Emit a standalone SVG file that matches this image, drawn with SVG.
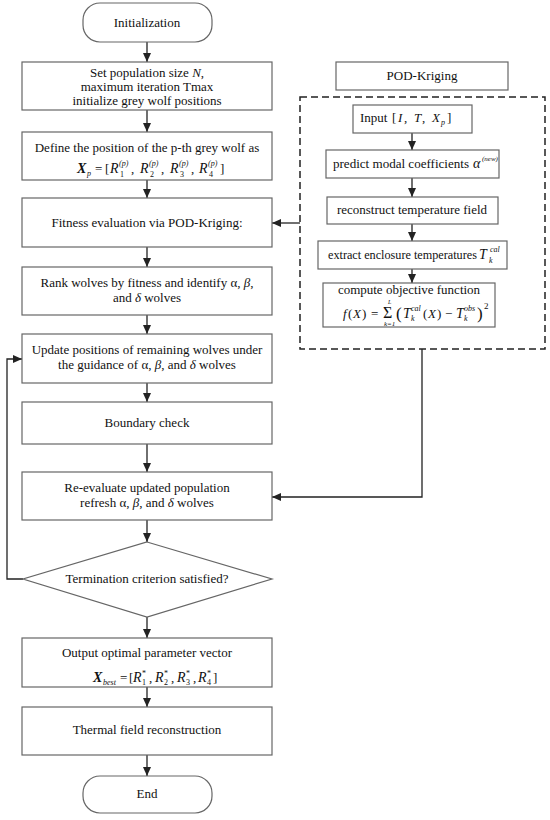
<svg xmlns="http://www.w3.org/2000/svg" width="550" height="820" viewBox="0 0 550 820">
<defs>
<marker id="ah" markerWidth="10" markerHeight="10" refX="9" refY="5" orient="auto" markerUnits="userSpaceOnUse">
<path d="M0,1 L9,5 L0,9 Z" fill="#222"/>
</marker>
<style>
.box{fill:#fff;stroke:#666;stroke-width:1.2}
.dash{fill:none;stroke:#222;stroke-width:1.5;stroke-dasharray:7,4}
.t{font-family:"Liberation Serif","Times New Roman",serif;font-size:13px;fill:#111}
.c{text-anchor:middle}
.i{font-style:italic}
.b{font-weight:bold}
.s{font-size:8px}
.con{fill:none;stroke:#222;stroke-width:1.3}
</style>
</defs>
<rect width="550" height="820" fill="#fff"/>

<g id="connectors">
<line class="con" x1="147" y1="42" x2="147" y2="62" marker-end="url(#ah)"/>
<line class="con" x1="147" y1="110" x2="147" y2="132" marker-end="url(#ah)"/>
<line class="con" x1="147" y1="180" x2="147" y2="198" marker-end="url(#ah)"/>
<line class="con" x1="147" y1="247" x2="147" y2="267" marker-end="url(#ah)"/>
<line class="con" x1="147" y1="315" x2="147" y2="334" marker-end="url(#ah)"/>
<line class="con" x1="147" y1="383" x2="147" y2="402" marker-end="url(#ah)"/>
<line class="con" x1="147" y1="444" x2="147" y2="472" marker-end="url(#ah)"/>
<line class="con" x1="147" y1="520" x2="147" y2="542" marker-end="url(#ah)"/>
<line class="con" x1="147" y1="617" x2="147" y2="638" marker-end="url(#ah)"/>
<line class="con" x1="147" y1="687" x2="147" y2="707" marker-end="url(#ah)"/>
<line class="con" x1="147" y1="755" x2="147" y2="776" marker-end="url(#ah)"/>
<line class="con" x1="412" y1="133" x2="412" y2="150" marker-end="url(#ah)"/>
<line class="con" x1="412" y1="178" x2="412" y2="197" marker-end="url(#ah)"/>
<line class="con" x1="412" y1="224" x2="412" y2="241" marker-end="url(#ah)"/>
<line class="con" x1="412" y1="269" x2="412" y2="283" marker-end="url(#ah)"/>
<line class="con" x1="300" y1="223" x2="272" y2="223" marker-end="url(#ah)"/>
<polyline class="con" points="422,349 422,497 272,497" marker-end="url(#ah)"/>
<polyline class="con" points="23,579 7,579 7,359 22,359" marker-end="url(#ah)"/>
</g>

<g id="init">
<rect class="box" x="83" y="3" width="129" height="39" rx="17"/>
<text class="t c" x="147" y="27">Initialization</text>
</g>

<g id="setpop">
<rect class="box" x="22" y="62" width="250" height="48"/>
<text class="t c" x="147" y="77">Set population size <tspan class="i">N</tspan>,</text>
<text class="t c" x="147" y="91">maximum iteration  Tmax</text>
<text class="t c" x="147" y="105">initialize grey wolf positions</text>
</g>

<g id="define">
<rect class="box" x="22" y="132" width="250" height="48"/>
<text class="t c" x="147" y="152">Define the position of the p-th grey wolf as</text>
<text class="t" y="173"><tspan class="i b" x="77" font-size="14">X</tspan><tspan class="i s" x="87" y="176">p</tspan><tspan x="95" y="173">=</tspan><tspan x="105">[</tspan><tspan class="i" x="110" font-size="14">R</tspan><tspan class="i s" x="119" y="166">(p)</tspan><tspan class="s" x="120" y="177">1</tspan><tspan x="131" y="173">,</tspan><tspan class="i" x="140" font-size="14">R</tspan><tspan class="i s" x="149" y="166">(p)</tspan><tspan class="s" x="150" y="177">2</tspan><tspan x="161" y="173">,</tspan><tspan class="i" x="170" font-size="14">R</tspan><tspan class="i s" x="179" y="166">(p)</tspan><tspan class="s" x="180" y="177">3</tspan><tspan x="191" y="173">,</tspan><tspan class="i" x="199" font-size="14">R</tspan><tspan class="i s" x="208" y="166">(p)</tspan><tspan class="s" x="209" y="177">4</tspan><tspan x="220" y="173">]</tspan></text>
</g>

<g id="fitness">
<rect class="box" x="22" y="198" width="250" height="49"/>
<text class="t c" x="147" y="227">Fitness evaluation via POD-Kriging:</text>
</g>

<g id="rank">
<rect class="box" x="22" y="267" width="250" height="48"/>
<text class="t c" x="147" y="287">Rank wolves by fitness and identify α, <tspan class="i">β</tspan>,</text>
<text class="t c" x="147" y="302">and <tspan class="i">δ</tspan> wolves</text>
</g>

<g id="update">
<rect class="box" x="22" y="334" width="250" height="49"/>
<text class="t c" x="147" y="354">Update positions of remaining wolves under</text>
<text class="t c" x="147" y="369">the guidance of  α, <tspan class="i">β</tspan>, and <tspan class="i">δ</tspan> wolves</text>
</g>

<g id="boundary">
<rect class="box" x="22" y="402" width="250" height="42"/>
<text class="t c" x="147" y="427">Boundary check</text>
</g>

<g id="reeval">
<rect class="box" x="22" y="472" width="250" height="48"/>
<text class="t c" x="147" y="492">Re-evaluate updated population</text>
<text class="t c" x="147" y="507">refresh α, <tspan class="i">β</tspan>, and <tspan class="i">δ</tspan> wolves</text>
</g>

<g id="termination">
<polygon class="box" points="147,542 272,579 147,617 23,579"/>
<text class="t c" x="147" y="583">Termination criterion satisfied?</text>
</g>

<g id="output">
<rect class="box" x="22" y="638" width="250" height="49"/>
<text class="t c" x="147" y="657">Output optimal parameter vector</text>
<text class="t" y="682"><tspan class="i b" x="93" font-size="14">X</tspan><tspan class="i s" x="103" y="685">best</tspan><tspan x="120" y="682">=</tspan><tspan x="129">[</tspan><tspan class="i" x="133" font-size="14">R</tspan><tspan class="s" x="142" y="676">*</tspan><tspan class="s" x="142" y="685">1</tspan><tspan x="149" y="682">,</tspan><tspan class="i" x="155" font-size="14">R</tspan><tspan class="s" x="164" y="676">*</tspan><tspan class="s" x="164" y="685">2</tspan><tspan x="171" y="682">,</tspan><tspan class="i" x="177" font-size="14">R</tspan><tspan class="s" x="186" y="676">*</tspan><tspan class="s" x="186" y="685">3</tspan><tspan x="193" y="682">,</tspan><tspan class="i" x="198" font-size="14">R</tspan><tspan class="s" x="207" y="676">*</tspan><tspan class="s" x="207" y="685">4</tspan><tspan x="213" y="682">]</tspan></text>
</g>

<g id="thermal">
<rect class="box" x="22" y="707" width="250" height="48"/>
<text class="t c" x="147" y="734">Thermal field reconstruction</text>
</g>

<g id="end">
<rect class="box" x="83" y="776" width="129" height="37" rx="17"/>
<text class="t c" x="147" y="798">End</text>
</g>

<g id="podtitle">
<rect class="box" x="336" y="62" width="172" height="28"/>
<text class="t c" x="422" y="80">POD-Kriging</text>
</g>

<g id="podgroup">
<rect class="dash" x="300" y="97" width="245" height="252"/>
</g>

<g id="input">
<rect class="box" x="353" y="105" width="119" height="28"/>
<text class="t" y="122"><tspan x="360">Input</tspan><tspan x="392">[</tspan><tspan class="i" x="398">I</tspan><tspan x="404">,</tspan><tspan class="i" x="414">T</tspan><tspan x="422">,</tspan><tspan class="i" x="432">X</tspan><tspan class="i s" x="441" y="125">p</tspan><tspan x="447" y="122">]</tspan></text>
</g>

<g id="predict">
<rect class="box" x="326" y="150" width="173" height="28"/>
<text class="t" y="168"><tspan x="333" textLength="136" lengthAdjust="spacingAndGlyphs">predict modal coefficients</tspan><tspan class="i" x="473" font-size="14">α</tspan><tspan class="i" x="482" y="161" font-size="7">(new)</tspan></text>
</g>

<g id="reconstruct">
<rect class="box" x="327" y="197" width="171" height="27"/>
<text class="t c" x="412" y="214">reconstruct temperature field</text>
</g>

<g id="extract">
<rect class="box" x="318" y="241" width="189" height="28"/>
<text class="t" y="259"><tspan x="328" font-size="12.2">extract enclosure temperatures</tspan><tspan class="i" x="479" font-size="14">T</tspan><tspan class="i s" x="490" y="252">cal</tspan><tspan class="i s" x="489" y="263">k</tspan></text>
</g>

<g id="compute">
<rect class="box" x="323" y="283" width="172" height="44"/>
<text class="t c" x="409" y="294">compute objective function</text>
<text class="t" y="318"><tspan class="i" x="343">f</tspan><tspan x="348">(</tspan><tspan class="i" x="353">X</tspan><tspan x="362">)</tspan><tspan x="371">=</tspan><tspan x="383" font-size="16">Σ</tspan><tspan class="i" x="388" y="304" font-size="6">L</tspan><tspan class="i" x="384" y="326" font-size="7">k=1</tspan><tspan x="396" y="319" font-size="17">(</tspan><tspan class="i" x="403" y="318" font-size="14">T</tspan><tspan class="i s" x="411" y="311">cal</tspan><tspan class="i s" x="411" y="321">k</tspan><tspan x="423" y="318">(</tspan><tspan class="i" x="428">X</tspan><tspan x="437">)</tspan><tspan x="445">−</tspan><tspan class="i" x="456" font-size="14">T</tspan><tspan class="i s" x="464" y="311">obs</tspan><tspan class="i s" x="464" y="321">k</tspan><tspan x="477" y="319" font-size="17">)</tspan><tspan x="484" y="309" font-size="9">2</tspan></text>
</g>
</svg>
